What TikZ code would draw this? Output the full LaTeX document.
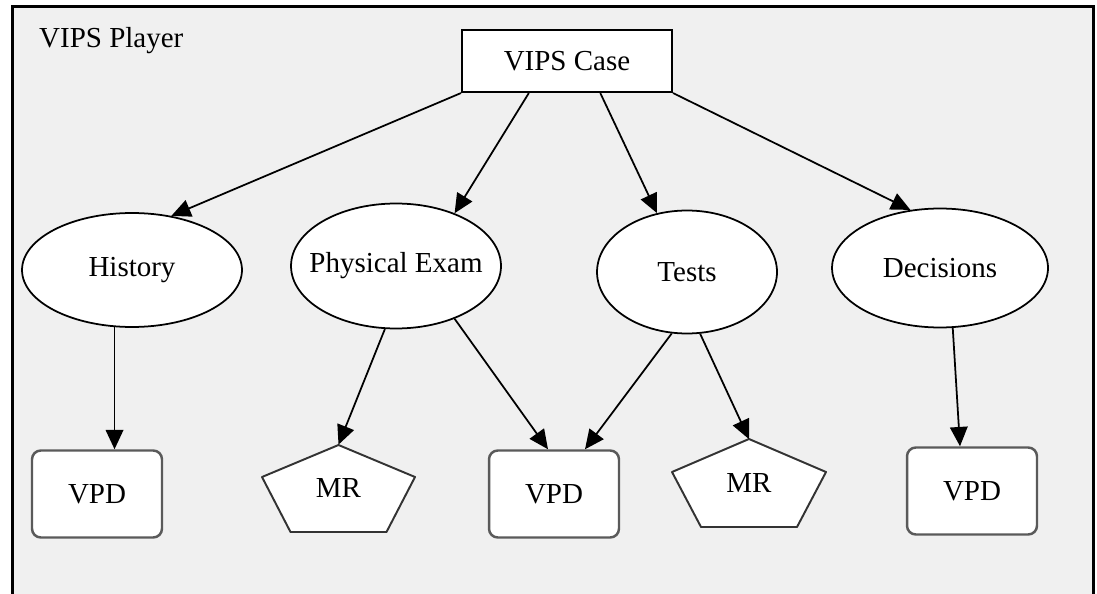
\documentclass[tikz,border=0pt]{standalone}
\usepackage{fontspec}
\setmainfont{Liberation Serif}
\usetikzlibrary{arrows.meta,calc,shapes.geometric}
\definecolor{panelgray}{HTML}{F0F0F0}
\definecolor{boxgray}{HTML}{5A5A5A}

\begin{document}
\begin{tikzpicture}
[
x=0.02cm, y=-0.02cm,
>={Triangle[length=11pt,width=10pt]},
every node/.style={font=\fontsize{16.5}{19}\selectfont},
casebox/.style={draw, fill=white, line width=1.2pt, minimum width=4.2cm, minimum height=1.24cm},
topic/.style 2 args={draw, ellipse, fill=white, line width=1pt, inner sep=0pt, minimum width=#1, minimum height=#2},
vpd/.style={draw=boxgray, fill=white, rounded corners=5pt, line width=1.4pt, minimum width=2.6cm, minimum height=1.74cm},
mrbox/.style={inner sep=0pt, minimum width=3.06cm, minimum height=1.74cm},
pent/.style={draw=black!80, fill=white, line width=1.1pt, line join=round},
link/.style={->, line width=1pt},
]
\useasboundingbox (0,0) rectangle (1097,594);

% player frame
\fill[panelgray] (12.5,6.5) rectangle (1093.5,594);
\draw[line width=1.3pt] (12.5,594) -- (12.5,6.5) -- (1093.5,6.5) -- (1093.5,594);
\node[anchor=base west] (player) at (33,48) {VIPS Player};

\node[casebox] (case) at (567,61) {VIPS Case};

\node[topic={4.4cm}{2.28cm}] (hist) at (132,270) {History};
\node[topic={4.2cm}{2.5cm}, inner xsep=-0.25cm] (exam) at (396,266) {Physical Exam};
\node[topic={3.6cm}{2.46cm}] (tests) at (687,272) {Tests};
\node[topic={4.32cm}{2.38cm}] (dec) at (940,268) {Decisions};

\node[vpd] (vpd1) at (97,494) {VPD};
\node[vpd] (vpd2) at (554,494) {VPD};
\node[vpd] (vpd3) at (972,491) {VPD};

% media resources
\coordinate (m1) at (338.5,488.5);
\draw[pent] ($(m1)+(0,-43.5)$) -- ($(m1)+(-76.5,-11.5)$) -- ($(m1)+(-48,43.5)$) -- ($(m1)+(48,43.5)$) -- ($(m1)+(76.5,-11.5)$) -- cycle;
\node[mrbox] (mr1) at (m1) {MR};
\coordinate (m2) at (749,483);
\draw[pent] ($(m2)+(0,-44)$) -- ($(m2)+(-77,-11)$) -- ($(m2)+(-48,44)$) -- ($(m2)+(48,44)$) -- ($(m2)+(77,-11)$) -- cycle;
\node[mrbox] (mr2) at (m2) {MR};

\draw[link] (case.south west) -- (hist.54);
\draw[link] ($(case.south west)!0.32!(case.south east)$) -- (exam.42);
\draw[link] ($(case.south west)!0.657!(case.south east)$) -- (tests.117);
\draw[link] (case.south east) -- (dec.117);

\draw[link] (hist.-107) -- (hist.-107 |- vpd1.north);
\draw[link] (exam.-100) -- (mr1.north);
\draw[link] (exam.-42) -- ($(vpd2.north)+(-6,0)$);
\draw[link] (tests.-104) -- ($(vpd2.north)+(31,0)$);
\draw[link] (tests.-78) -- (mr2.north);
\draw[link] (dec.-78) -- ($(vpd3.north)+(-12,0)$);

\end{tikzpicture}
\end{document}
